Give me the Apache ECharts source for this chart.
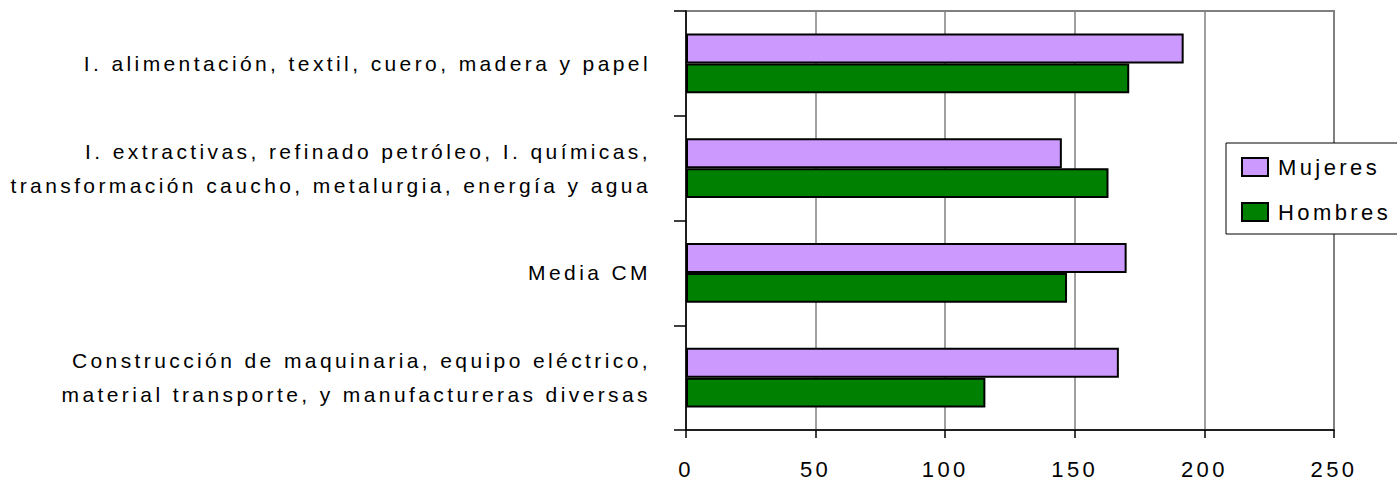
<!DOCTYPE html>
<html>
<head>
<meta charset="utf-8">
<script src="https://cdn.jsdelivr.net/npm/echarts@6/dist/echarts.min.js"></script>
<style>
  html, body { margin: 0; padding: 0; background: #fff; }
  #chart { width: 1397px; height: 482px; }
  /* espaciado de letras como en el original */
  #chart text { letter-spacing: 3.4px; }
</style>
</head>
<body>
<div id="chart"></div>
<script>
// categorías (de arriba a abajo)
const sectores = [
  'I. alimentación, textil, cuero, madera y papel',
  'I. extractivas, refinado petróleo, I. químicas,\ntransformación caucho, metalurgia, energía y agua',
  'Media CM',
  'Construcción de maquinaria, equipo eléctrico,\nmaterial transporte, y manufactureras diversas'
]
const mujeres = [192, 145, 170, 167]
const hombres = [171, 163, 147, 115.5]
const xTicks = [0, 250, 50] // min, max, intervalo

const fuente = 'Liberation Sans, Arial, sans-serif'

const chart = echarts.init(document.getElementById('chart'), null, { renderer: 'svg' })

const option = {
  animation: false,
  textStyle: { fontFamily: fuente, color: '#000' },
  grid: {
    left: 686,
    right: 63,
    top: 11,
    bottom: 52,
    show: true,
    borderColor: '#808080',
    borderWidth: 2,
    outerBoundsMode: 'none'
  },
  legend: {
    orient: 'vertical',
    left: 1226,
    top: 143,
    data: ['Mujeres', 'Hombres'],
    icon: 'rect',
    itemWidth: 26,
    itemHeight: 18,
    itemGap: 21,
    padding: [12, 38, 10, 15],
    backgroundColor: '#fff',
    borderColor: '#000',
    borderWidth: 1,
    borderRadius: 0,
    textStyle: {
      fontFamily: fuente,
      fontSize: 22,
      color: '#000',
      lineHeight: 24,
      padding: [0, 0, 0, 5]
    }
  },
  xAxis: {
    type: 'value',
    min: xTicks[0],
    max: xTicks[1],
    interval: xTicks[2],
    axisLine: { show: true, lineStyle: { color: '#000', width: 1.5 } },
    axisTick: { show: true, length: 8, lineStyle: { color: '#000', width: 1.5 } },
    axisLabel: { fontFamily: fuente, fontSize: 22, color: '#000', margin: 28 },
    splitLine: { show: true, lineStyle: { color: '#808080', width: 1.5 } }
  },
  yAxis: {
    type: 'category',
    inverse: true,
    data: sectores,
    axisLine: { show: true, lineStyle: { color: '#000', width: 1.5 } },
    axisTick: { show: true, length: 12, lineStyle: { color: '#000', width: 1.5 } },
    axisLabel: {
      fontFamily: fuente,
      fontSize: 21,
      color: '#000',
      margin: 35,
      lineHeight: 34,
      align: 'right'
    },
    splitLine: { show: false }
  },
  series: [
    {
      name: 'Mujeres',
      type: 'bar',
      data: mujeres,
      barGap: '0%',
      barCategoryGap: '43%',
      itemStyle: { color: '#CC99FF', borderColor: '#000', borderWidth: 2 }
    },
    {
      name: 'Hombres',
      type: 'bar',
      data: hombres,
      itemStyle: { color: '#008000', borderColor: '#000', borderWidth: 2 }
    }
  ]
}

chart.setOption(option)
</script>
</body>
</html>
